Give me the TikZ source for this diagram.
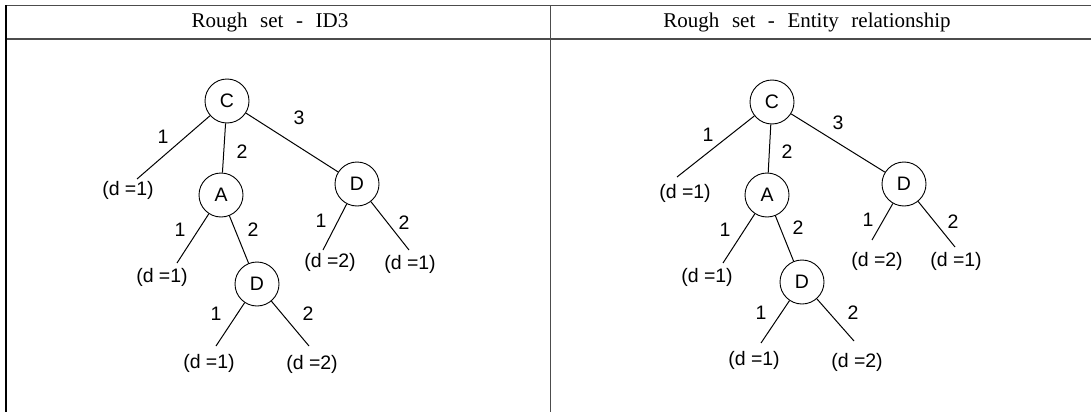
\documentclass[tikz,border=0pt]{standalone}
\usepackage{fontspec}
\setmainfont{Liberation Serif}
\newfontfamily\arialf{Liberation Sans}
\begin{document}
\begin{tikzpicture}[x=1pt,y=-1pt,
  tnode/.style={circle,draw,line width=0.9pt,minimum size=44pt,inner sep=0pt,font=\arialf\fontsize{19.5}{21}\selectfont},
  lbl/.style={inner sep=0pt,font=\arialf\fontsize{19.5}{21}\selectfont},
  hdr/.style={inner sep=0pt,font=\fontsize{21}{23}\selectfont},
  edge/.style={line width=1pt},
  rule/.style={line width=1.4pt,draw=black!70}]
\useasboundingbox (0,0) rectangle (1091,412);
% table
\coordinate (tl) at (6,5.5); \coordinate (tr) at (1091,5.5);
\coordinate (hl) at (6,39); \coordinate (hr) at (1091,39);
\coordinate (lb) at (6,412); \coordinate (mt) at (550.5,5.5); \coordinate (mb) at (550.5,412);
\draw[rule] (tl) -- (tr);
\draw[rule] (hl) -- (hr);
\draw[line width=1.8pt] (tl) -- (lb);
\draw[rule] (mt) -- (mb);
\node[hdr] (h1) at (270,22) {Rough\hspace{0.6em}set\hspace{0.6em}-\hspace{0.6em}ID3};
\node[hdr] (h2) at (807,22) {Rough\hspace{0.6em}set\hspace{0.6em}-\hspace{0.6em}Entity\hspace{0.6em}relationship};
% ---------- left tree
\node[tnode] (C) at (227,101) {C};
\node[tnode] (A) at (221,195) {A};
\node[tnode] (D) at (357,184) {D};
\node[tnode] (E) at (257,284) {D};
\coordinate (c1) at (137,179);
\coordinate (a1) at (177,263);
\coordinate (d1) at (323,250);
\coordinate (d2) at (409,250);
\coordinate (e1) at (216,346);
\coordinate (e2) at (309,346);
\draw[edge] (C) -- (c1);
\draw[edge] (C) -- (A);
\draw[edge] (C) -- (D);
\draw[edge] (A) -- (a1);
\draw[edge] (A) -- (E);
\draw[edge] (D) -- (d1);
\draw[edge] (D) -- (d2);
\draw[edge] (E) -- (e1);
\draw[edge] (E) -- (e2);
\node[lbl] (lc1) at (163,137) {1};
\node[lbl] (lc2) at (242,152) {2};
\node[lbl] (lc3) at (299,118) {3};
\node[lbl] (la1) at (180,230) {1};
\node[lbl] (la2) at (253,230) {2};
\node[lbl] (ld1) at (321,221) {1};
\node[lbl] (ld2) at (404,223) {2};
\node[lbl] (le1) at (216,314) {1};
\node[lbl] (le2) at (308,314) {2};
\node[lbl] (r1) at (128,190) {(d =1)};
\node[lbl] (r2) at (162,277) {(d =1)};
\node[lbl] (r3) at (330,262) {(d =2)};
\node[lbl] (r4) at (410,264) {(d =1)};
\node[lbl] (r5) at (209,363) {(d =1)};
\node[lbl] (r6) at (312,364) {(d =2)};
% ---------- right tree
\node[tnode] (RC) at (772,102) {C};
\node[tnode] (RA) at (767,195) {A};
\node[tnode] (RD) at (904,184) {D};
\node[tnode] (RE) at (802,282) {D};
\coordinate (rc1) at (677,177);
\coordinate (ra1) at (723,263);
\coordinate (rd1) at (872,240);
\coordinate (rd2) at (955,247);
\coordinate (re1) at (761,343);
\coordinate (re2) at (854,341);
\draw[edge] (RC) -- (rc1);
\draw[edge] (RC) -- (RA);
\draw[edge] (RC) -- (RD);
\draw[edge] (RA) -- (ra1);
\draw[edge] (RA) -- (RE);
\draw[edge] (RD) -- (rd1);
\draw[edge] (RD) -- (rd2);
\draw[edge] (RE) -- (re1);
\draw[edge] (RE) -- (re2);
\node[lbl] (rlc1) at (708,135) {1};
\node[lbl] (rlc2) at (787,152) {2};
\node[lbl] (rlc3) at (838,123) {3};
\node[lbl] (rla1) at (725,230) {1};
\node[lbl] (rla2) at (798,228) {2};
\node[lbl] (rld1) at (868,220) {1};
\node[lbl] (rld2) at (953,222) {2};
\node[lbl] (rle1) at (761,313) {1};
\node[lbl] (rle2) at (853,313) {2};
\node[lbl] (rr1) at (685,193) {(d =1)};
\node[lbl] (rr2) at (707,277) {(d =1)};
\node[lbl] (rr3) at (877,261) {(d =2)};
\node[lbl] (rr4) at (956,261) {(d =1)};
\node[lbl] (rr5) at (754,360) {(d =1)};
\node[lbl] (rr6) at (857,362) {(d =2)};
\end{tikzpicture}
\end{document}
